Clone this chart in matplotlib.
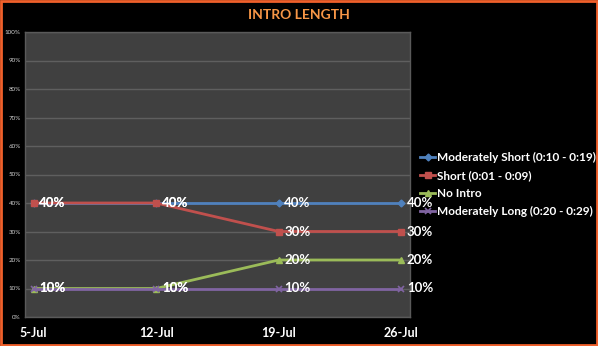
import matplotlib
matplotlib.use("Agg")
import matplotlib.pyplot as plt
from matplotlib.patches import Rectangle

dates = ["5-Jul", "12-Jul", "19-Jul", "26-Jul"]
mod_short = [40, 40, 40, 40]
short = [40, 40, 30, 30]
no_intro = [10, 10, 20, 20]
mod_long = [10, 10, 10, 10]

series = [
    ("Moderately Short (0:10 - 0:19)", mod_short, "#4F81BD", "D", 3.5),
    ("Short (0:01 - 0:09)", short, "#C0504D", "s", 5),
    ("No Intro", no_intro, "#9BBB59", "^", 5),
    ("Moderately Long (0:20 - 0:29)", mod_long, "#8064A2", "x", 5),
]

plt.rcParams['font.family'] = ['Lato', 'DejaVu Sans']

fig = plt.figure(figsize=(5.98, 3.46), dpi=100, facecolor="black")
ax = fig.add_axes([25 / 598, 1 - 317 / 346, 385 / 598, 285 / 346])
ax.set_facecolor("#404040")

x = list(range(len(dates)))
for name, vals, col, mk, ms in series:
    ax.plot(x, vals, color=col, lw=2, marker=mk, markersize=ms,
            markeredgewidth=1 if mk != "x" else 1.2, label=name)
    for xi, v in zip(x, vals):
        ax.annotate(f"{v}%", (xi, v), xytext=(4, 0), textcoords="offset points",
                    color="white", fontsize=9.5, fontweight="bold", va="center", ha="left")

ax.set_xlim(-0.07, 3.07)
ax.set_ylim(0, 100)
ax.set_yticks(range(0, 101, 10))
ax.set_yticklabels([f"{v}%" for v in range(0, 101, 10)], fontsize=4.5, color="#d0d0d0")
ax.set_xticks(x)
ax.set_xticklabels(dates, fontsize=9, fontweight="bold", color="white")
ax.tick_params(axis="x", length=0, pad=7)
ax.tick_params(axis="y", length=0, pad=3)
ax.grid(axis="y", color="#5f5f5f", lw=1)
ax.set_axisbelow(True)
for s in ax.spines.values():
    s.set_color("#5a5a5a")
    s.set_linewidth(1)

leg = fig.legend(loc="upper left", bbox_to_anchor=(414 / 598, 1 - 146 / 346), frameon=False,
                 handlelength=1.3, handletextpad=0.15, labelspacing=0.6, borderpad=0,
                 prop={"family": "Lato", "weight": "bold", "size": 8.5})
for t in leg.get_texts():
    t.set_color("white")

fig.text(0.5, 1 - 15 / 346, "INTRO LENGTH", color="#F79646", fontsize=10,
         fontweight="bold", ha="center", va="center")

fig.patches.append(Rectangle((0.002, 0.003), 0.996, 0.994, transform=fig.transFigure,
                             fill=False, edgecolor="#F0602B", lw=2))

fig.savefig("out.png", dpi=100, facecolor="black")
